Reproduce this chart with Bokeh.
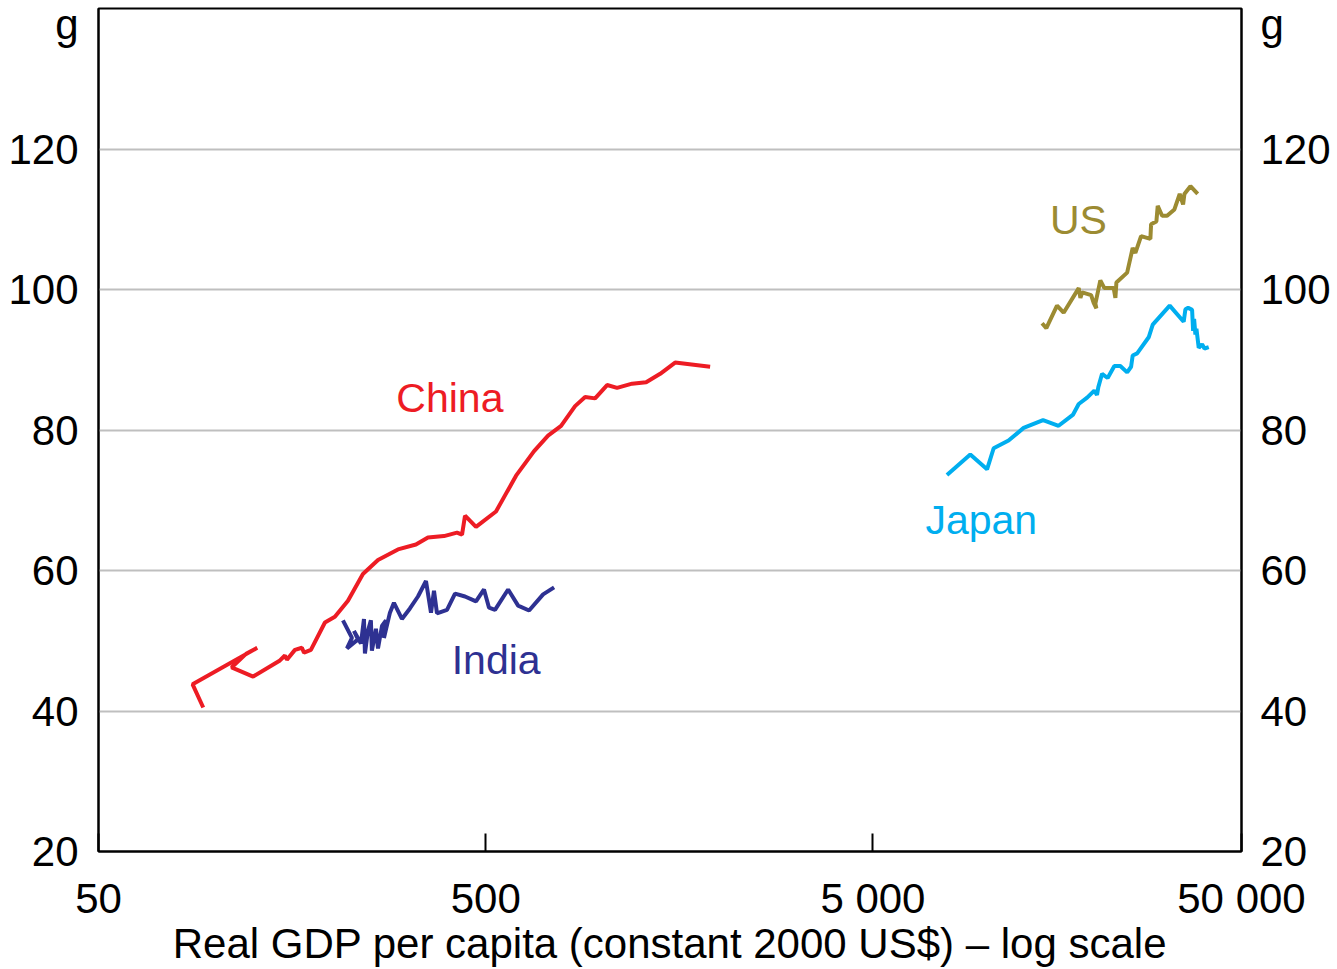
from bokeh.plotting import figure
from bokeh.models import FixedTicker, Label, Range1d, LinearAxis
from bokeh.embed import file_html
from bokeh.resources import INLINE

# ---------------- data ----------------
china_gdp = [93.2, 87.5, 128.5, 120.6, 110.3, 125.4, 147.1, 151.5, 153.3, 160.8,
             167.6, 169.7, 176.8, 192.2, 203.9, 220.4, 240.9, 263.5, 296.7, 330.2,
             354.7, 390.1, 421.5, 434.3, 442.1, 471.9, 531.5, 598.9, 666.6, 724.4,
             782.7, 850.6, 903.0, 958.2, 1029, 1092, 1194, 1298, 1411, 1542, 1899]
china_g = [40.5, 43.8, 49.0, 48.2, 46.2, 44.9, 47.2, 47.9, 47.3, 48.7,
           49.0, 48.3, 48.7, 52.6, 53.4, 55.7, 59.5, 61.5, 63.0, 63.7,
           64.7, 64.9, 65.4, 65.1, 67.8, 66.2, 68.4, 73.5, 77.0, 79.2,
           80.6, 83.4, 84.7, 84.5, 86.4, 86.0, 86.6, 86.8, 88.0, 89.6, 89.0]

india_gdp = [213.9, 225.7, 219.1, 233.9, 228.4, 238.1, 242.4, 243.8, 248.2, 252.6,
             254.1, 260.3, 263.5, 269.8, 276.3, 273.0, 282.9, 289.7, 303.8, 318.6,
             334.2, 350.5, 361.1, 367.6, 374.2, 397.2, 416.6, 442.1, 471.9, 494.9,
             509.9, 528.4, 571.2, 606.2, 647.1, 703.4, 750.9]
india_g = [52.9, 50.4, 48.9, 50.2, 51.4, 49.6, 53.1, 48.2, 51.4, 52.9,
           48.6, 51.7, 48.9, 52.1, 52.9, 50.4, 54.0, 55.4, 53.1, 54.6,
           56.3, 58.5, 54.0, 57.1, 53.9, 54.4, 56.7, 56.3, 55.6, 57.3,
           54.7, 54.4, 57.3, 55.0, 54.3, 56.6, 57.6]

us_gdp = [13670, 14020, 14940, 15540, 17000, 17170, 17350, 18300, 18580, 18880,
          18770, 19330, 19800, 20930, 21140, 21270, 22670, 23430, 23810, 24630,
          26030, 26140, 26980, 27190, 27910, 28750, 30030, 30990, 31620, 31870,
          33030, 34490]
us_g = [95.2, 94.5, 97.7, 96.7, 100.2, 98.8, 99.6, 99.2, 98.1, 97.3,
        98.0, 101.3, 100.2, 100.2, 98.8, 101.0, 102.4, 105.9, 105.2, 107.6,
        107.2, 109.3, 109.7, 111.9, 110.5, 110.5, 111.4, 113.6, 112.1, 113.6,
        114.7, 113.6]

japan_gdp = [7765, 8920, 9855, 10250, 11200, 12250, 13750, 15080, 16440, 17000,
             17870, 18650, 18950, 19100, 19530, 20190, 21010, 21770, 22670, 23210,
             23430, 24060, 25770, 26400, 29200, 31730, 32060, 32580, 33360, 33560,
             33760, 34020, 34230, 34700, 35400, 35900, 36830]
japan_g = [73.6, 76.5, 74.4, 77.4, 78.5, 80.3, 81.4, 80.6, 82.2, 83.7,
           84.6, 85.6, 85.0, 86.1, 88.0, 87.4, 89.1, 89.1, 88.2, 89.0,
           90.6, 90.9, 93.2, 95.0, 97.7, 95.4, 97.2, 97.4, 97.1, 94.1,
           95.8, 93.6, 94.4, 91.7, 92.2, 91.6, 91.8]

series_names = ["China", "India", "US", "Japan"]
series_colors = ["#ED1C24", "#2E3192", "#9C8B32", "#00AEEF"]
# label anchor positions (data coordinates)
label_x = [404, 532, 16970, 9525]
label_y = [84.6, 47.2, 109.9, 67.2]

x_tick_values = [50, 500, 5000, 44750]
x_tick_labels = ["50", "500", "5 000", "50 000"]
y_tick_values = [20, 40, 60, 80, 100, 120]
grid_values = [40, 60, 80, 100, 120]
unit_label = "g"
unit_label_pos = 139.9
x_title = "Real GDP per capita (constant 2000 US$) \u2013 log scale"

X_MIN, X_MAX = 50, 44750
Y_MIN, Y_MAX = 20, 140

FONT = "Liberation Sans"
FS = "42px"

p = figure(width=1337, height=969, x_axis_type="log",
           x_range=Range1d(X_MIN, X_MAX), y_range=Range1d(Y_MIN, Y_MAX),
           output_backend="svg", toolbar_location=None,
           min_border_left=98, min_border_right=96, min_border_top=8,
           min_border_bottom=118,
           background_fill_color="white", border_fill_color="white")
p.outline_line_color = "black"
p.outline_line_width = 2

# x axis
xa = p.xaxis[0]
xa.ticker = FixedTicker(ticks=x_tick_values, minor_ticks=[])
xa.major_label_overrides = {v: s for v, s in zip(x_tick_values, x_tick_labels)}
xa.major_tick_in = 18
xa.major_tick_out = 0
xa.minor_tick_in = 0
xa.minor_tick_out = 0
xa.major_tick_line_width = 2
xa.axis_line_width = 2
xa.axis_line_color = "black"
xa.major_label_standoff = 23
xa.major_label_text_font = FONT
xa.major_label_text_font_size = FS
xa.major_label_text_color = "black"
xa.axis_label = x_title
xa.axis_label_text_font = FONT
xa.axis_label_text_font_size = FS
xa.axis_label_text_font_style = "normal"
xa.axis_label_text_color = "black"
xa.axis_label_standoff = -5

# y axes (unit "g" shown as a label at the top of each axis)
y_label_map = {v: str(v) for v in y_tick_values}
y_label_map[unit_label_pos] = unit_label

def style_y(ax, standoff):
    ax.ticker = FixedTicker(ticks=y_tick_values + [unit_label_pos], minor_ticks=[])
    ax.major_label_overrides = y_label_map
    ax.major_tick_in = 0
    ax.major_tick_out = 0
    ax.minor_tick_in = 0
    ax.minor_tick_out = 0
    ax.axis_line_width = 2
    ax.axis_line_color = "black"
    ax.major_label_standoff = standoff
    ax.major_label_text_font = FONT
    ax.major_label_text_font_size = FS
    ax.major_label_text_color = "black"

style_y(p.yaxis[0], 20)
ry = LinearAxis()
style_y(ry, 19)
p.add_layout(ry, "right")

p.xgrid.visible = False
p.ygrid.ticker = FixedTicker(ticks=grid_values, minor_ticks=[])
p.ygrid.grid_line_color = "#BFBFBF"
p.ygrid.grid_line_width = 2

# series
for xs, ys, c in [(china_gdp, china_g, series_colors[0]),
                  (india_gdp, india_g, series_colors[1]),
                  (us_gdp, us_g, series_colors[2]),
                  (japan_gdp, japan_g, series_colors[3])]:
    p.line(xs, ys, line_color=c, line_width=4)

for name, c, lx, ly in zip(series_names, series_colors, label_x, label_y):
    p.add_layout(Label(x=lx, y=ly, text=name, text_color=c, text_font=FONT,
                       text_font_size="41px", text_align="center",
                       text_baseline="middle"))

open("out.html", "w").write(file_html(p, INLINE))
